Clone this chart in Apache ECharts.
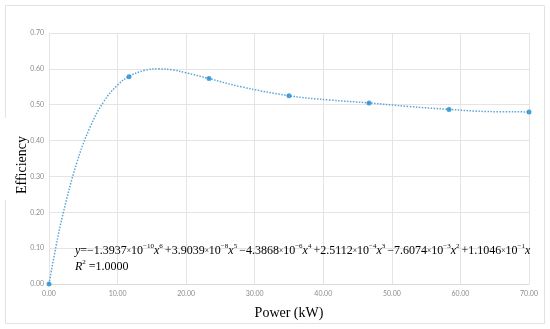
<!DOCTYPE html>
<html>
<head>
<meta charset="utf-8">
<script src="https://cdn.jsdelivr.net/npm/echarts@6/dist/echarts.min.js"></script>
<style>html,body{margin:0;padding:0;background:#fff;}#c{width:550px;height:329px;}</style>
</head>
<body>
<div id="c"></div>
<script>
// Measured points
var powerKW = [0, 11.67, 23.33, 35.0, 46.67, 58.33, 70.0];
var efficiency = [0, 0.578, 0.573, 0.525, 0.505, 0.487, 0.480];
// Trendline values
var trendX = [0, 1, 2, 4, 6, 8, 10, 11.67, 14, 16, 18, 20, 23.33, 28, 35, 41, 46.67, 52.5, 58.33, 64, 70];
var trendY = [0, 0.103, 0.192, 0.335, 0.438, 0.509, 0.555, 0.579, 0.596, 0.600, 0.597, 0.589, 0.573, 0.550, 0.525, 0.513, 0.505, 0.495, 0.487, 0.481, 0.480];
// Axis ticks
var xTicks = [0, 10, 20, 30, 40, 50, 60, 70];
var yTicks = [0, 0.1, 0.2, 0.3, 0.4, 0.5, 0.6, 0.7];
// Equation text parts
var coefSigns = ['−', '+', '−', '+', '−', '+'];
var coefMant = ['1.3937', '3.9039', '4.3868', '2.5112', '7.6074', '1.1046'];
var coefExp = ['−10', '−8', '−6', '−4', '−3', '−1'];
var xPow = ['6', '5', '4', '3', '2', ''];
var rSquared = '1.0000';

var eq = '{i|y}{n|=}';
for (var k = 0; k < coefMant.length; k++) {
  eq += (k === 0 ? '' : '{sp| }') + '{n|' + coefSigns[k] + coefMant[k] + '}{m|×}{n|10}{s|' + coefExp[k] + '}{i|x}' + (xPow[k] ? '{s|' + xPow[k] + '}' : '');
}
var eq2 = '{i|R}{s|2}{n| =' + rSquared + '}';

var serif = 'Liberation Serif';
var rich = {
  n: {fontFamily: serif, fontSize: 12, lineHeight: 16, color: '#000'},
  i: {fontFamily: serif, fontSize: 12, fontStyle: 'italic', lineHeight: 16, color: '#000'},
  sp: {fontFamily: serif, fontSize: 8, lineHeight: 16, color: '#000'},
  m: {fontFamily: serif, fontSize: 7.5, lineHeight: 16, color: '#000'},
  s: {fontFamily: serif, fontSize: 7, lineHeight: 7, verticalAlign: 'top', color: '#000'}
};

var chart = echarts.init(document.getElementById('c'), null, {renderer: 'canvas'});
var lblStyle = {fontFamily: 'Lato', fontSize: 7, color: '#8c8c8c'};
chart.setOption({
  animation: false,
  backgroundColor: '#fff',
  grid: {left: 49, top: 33, right: 21, bottom: 45, containLabel: false},
  xAxis: {
    type: 'value', min: xTicks[0], max: xTicks[xTicks.length - 1], interval: xTicks[1] - xTicks[0],
    axisLabel: Object.assign({margin: 6, formatter: function (v) { return v.toFixed(2); }}, lblStyle),
    axisLine: {lineStyle: {color: '#d9d9d9'}},
    axisTick: {show: false},
    splitLine: {lineStyle: {color: '#e4e4e4'}},
    name: 'Power (kW)', nameLocation: 'middle', nameGap: 22,
    nameTextStyle: {fontFamily: serif, fontSize: 14, color: '#000'}
  },
  yAxis: {
    type: 'value', min: yTicks[0], max: yTicks[yTicks.length - 1], interval: 0.1,
    axisLabel: Object.assign({margin: 5, formatter: function (v) { return v.toFixed(2); }}, lblStyle),
    axisLine: {show: false},
    axisTick: {show: false},
    splitLine: {lineStyle: {color: '#e4e4e4'}}
  },
  graphic: [
    {type: 'rect', z: -10, shape: {x: 5.5, y: 5.5, width: 539, height: 318}, style: {fill: 'none', stroke: '#e2e2e2', lineWidth: 1}},
    {type: 'rect', z: -9, shape: {x: 0, y: 118, width: 12, height: 82}, style: {fill: '#fff'}},
    {type: 'text', z: 10, x: 15, y: 165, rotation: Math.PI / 2,
      style: {text: 'Efficiency', fontFamily: serif, fontSize: 14, fill: '#000', align: 'center', verticalAlign: 'top'}},
    {type: 'text', z: 10, x: 75, y: 243, style: {text: eq, rich: rich, verticalAlign: 'top'}},
    {type: 'text', z: 10, x: 75, y: 259, style: {text: eq2, rich: rich, verticalAlign: 'top'}}
  ],
  series: [
    {
      type: 'line', smooth: 0.4, symbol: 'none', silent: true, z: 2,
      data: trendX.map(function (x, j) { return [x, trendY[j]]; }),
      lineStyle: {type: 'dotted', width: 1.5, color: '#5aa5d8'}
    },
    {
      type: 'scatter', symbol: 'circle', symbolSize: 5, z: 3,
      data: powerKW.map(function (x, j) { return [x, efficiency[j]]; }),
      itemStyle: {color: '#1f8bcf'}
    }
  ]
});
</script>
</body>
</html>
